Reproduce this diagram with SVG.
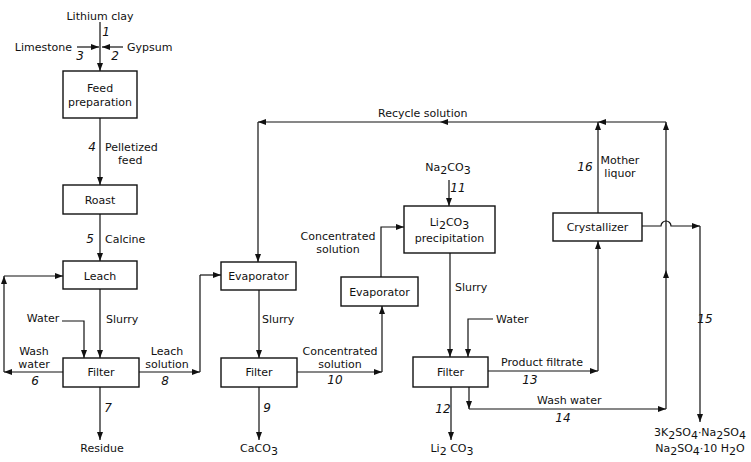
<svg xmlns="http://www.w3.org/2000/svg" width="751" height="462" viewBox="0 0 751 462">
<style>
text{font-family:"DejaVu Sans","Liberation Sans",sans-serif;font-size:11px;fill:#111}
.m{text-anchor:middle}
.n{font-style:italic;font-size:12px;text-anchor:middle}
rect{fill:#fff;stroke:#111;stroke-width:1.4}
#connectors path{fill:none;stroke:#111;stroke-width:1.2}
.a{marker-end:url(#ah)}
</style>
<defs>
<marker id="ah" markerUnits="userSpaceOnUse" markerWidth="8" markerHeight="8" viewBox="0 0 8 8" refX="8" refY="4" orient="auto">
<path d="M0,1 L8,4 L0,7 Z" fill="#111"/>
</marker>
</defs>
<rect x="0" y="0" width="751" height="462" style="fill:#fff;stroke:none"/>

<g id="connectors">
<path class="a" d="M100,22 V71"/>
<path class="a" d="M77,47 H99"/>
<path class="a" d="M123,47 H102"/>
<path class="a" d="M100,118 V185"/>
<path class="a" d="M100,214 V261"/>
<path class="a" d="M100,289 V358"/>
<path class="a" d="M62,321 H84 V358"/>
<path class="a" d="M63,372 H4"/>
<path class="a" d="M4,372 V276"/>
<path class="a" d="M4,276 H63"/>
<path class="a" d="M139,372 H200"/>
<path d="M200,372 V275"/>
<path class="a" d="M200,275 H221"/>
<path class="a" d="M100,387 V440"/>
<path class="a" d="M259,290 V358"/>
<path class="a" d="M297,372 H382"/>
<path class="a" d="M382,372 V306"/>
<path class="a" d="M259,387 V440"/>
<path class="a" d="M381,277 V227 H404"/>
<path class="a" d="M449,180 V206"/>
<path class="a" d="M450,253 V357"/>
<path class="a" d="M493,319 H468 V357"/>
<path class="a" d="M451,387 V440"/>
<path class="a" d="M488,371 H598"/>
<path class="a" d="M598,371 V241"/>
<path class="a" d="M469,387 V409"/>
<path class="a" d="M469,409 H666"/>
<path class="a" d="M666,409 V270"/>
<path class="a" d="M666,270 V122"/>
<path class="a" d="M598,213 V122"/>
<path class="a" d="M666,122 H598"/>
<path class="a" d="M598,122 H440"/>
<path class="a" d="M440,122 H258"/>
<path class="a" d="M258,122 V262"/>
<path class="a" d="M642,226 H661 A5,5 0 0 1 671,226 H700"/>
<path class="a" d="M700,226 V422"/>
</g>

<g id="feed"><rect x="63" y="71" width="74" height="47"/><text class="m" x="100" y="92">Feed</text><text class="m" x="100" y="106">preparation</text></g>
<g id="roast"><rect x="63" y="185" width="74" height="29"/><text class="m" x="100" y="204">Roast</text></g>
<g id="leach"><rect x="63" y="261" width="74" height="28"/><text class="m" x="100" y="280">Leach</text></g>
<g id="filter1"><rect x="63" y="358" width="76" height="29"/><text class="m" x="101" y="376">Filter</text></g>
<g id="evap1"><rect x="221" y="262" width="75" height="28"/><text class="m" x="258.5" y="280">Evaporator</text></g>
<g id="filter2"><rect x="221" y="358" width="76" height="29"/><text class="m" x="259" y="376">Filter</text></g>
<g id="evap2"><rect x="341" y="277" width="77" height="29"/><text class="m" x="379.5" y="296">Evaporator</text></g>
<g id="precip"><rect x="404" y="206" width="91" height="47"/><text class="m" x="449.5" y="226">Li<tspan dy="3">2</tspan><tspan dy="-3">CO</tspan><tspan dy="3">3</tspan></text><text class="m" x="449.5" y="242">precipitation</text></g>
<g id="filter3"><rect x="413" y="357" width="75" height="30"/><text class="m" x="450.5" y="376">Filter</text></g>
<g id="cryst"><rect x="553" y="213" width="89" height="28"/><text class="m" x="597.5" y="231">Crystallizer</text></g>

<g id="labels">
<text class="m" x="100" y="20">Lithium clay</text>
<text class="n" x="106" y="36">1</text>
<text x="72" y="51" text-anchor="end">Limestone</text>
<text x="127" y="51">Gypsum</text>
<text class="n" x="80" y="60">3</text>
<text class="n" x="115" y="60">2</text>
<text class="n" x="92" y="151">4</text>
<text x="105" y="151">Pelletized</text>
<text x="118" y="164">feed</text>
<text class="n" x="90" y="243">5</text>
<text x="105" y="243">Calcine</text>
<text class="m" x="43" y="322">Water</text>
<text x="106" y="323">Slurry</text>
<text class="m" x="34" y="355">Wash</text>
<text class="m" x="34" y="368">water</text>
<text class="n" x="35" y="385">6</text>
<text class="m" x="167" y="355">Leach</text>
<text class="m" x="167" y="368">solution</text>
<text class="n" x="165" y="385">8</text>
<text class="n" x="108" y="412">7</text>
<text class="m" x="102" y="452">Residue</text>
<text x="378" y="117">Recycle solution</text>
<text class="m" x="448" y="171">Na<tspan dy="3">2</tspan><tspan dy="-3">CO</tspan><tspan dy="3">3</tspan></text>
<text class="n" x="458" y="192">11</text>
<text class="m" x="338" y="240">Concentrated</text>
<text class="m" x="338" y="253">solution</text>
<text x="262" y="323">Slurry</text>
<text class="m" x="340" y="355">Concentrated</text>
<text class="m" x="340" y="368">solution</text>
<text class="n" x="335" y="384">10</text>
<text class="n" x="267" y="412">9</text>
<text class="m" x="259" y="452">CaCO<tspan dy="3">3</tspan></text>
<text x="455" y="291">Slurry</text>
<text x="496" y="323">Water</text>
<text x="501" y="366">Product filtrate</text>
<text class="n" x="530" y="384">13</text>
<text class="n" x="443" y="413">12</text>
<text class="m" x="452" y="452">Li<tspan dy="3">2</tspan><tspan dy="-3"> CO</tspan><tspan dy="3">3</tspan></text>
<text x="537" y="404">Wash water</text>
<text class="n" x="563" y="422">14</text>
<text class="n" x="705" y="323">15</text>
<text class="n" x="585" y="171">16</text>
<text class="m" x="620" y="164">Mother</text>
<text class="m" x="620" y="177">liquor</text>
<text class="m" x="700" y="436">3K<tspan dy="3">2</tspan><tspan dy="-3">SO</tspan><tspan dy="3">4</tspan><tspan dy="-3">·Na</tspan><tspan dy="3">2</tspan><tspan dy="-3">SO</tspan><tspan dy="3">4</tspan></text>
<text class="m" x="700" y="452">Na<tspan dy="3">2</tspan><tspan dy="-3">SO</tspan><tspan dy="3">4</tspan><tspan dy="-3">·10 H</tspan><tspan dy="3">2</tspan><tspan dy="-3">O</tspan></text>
</g>
</svg>
